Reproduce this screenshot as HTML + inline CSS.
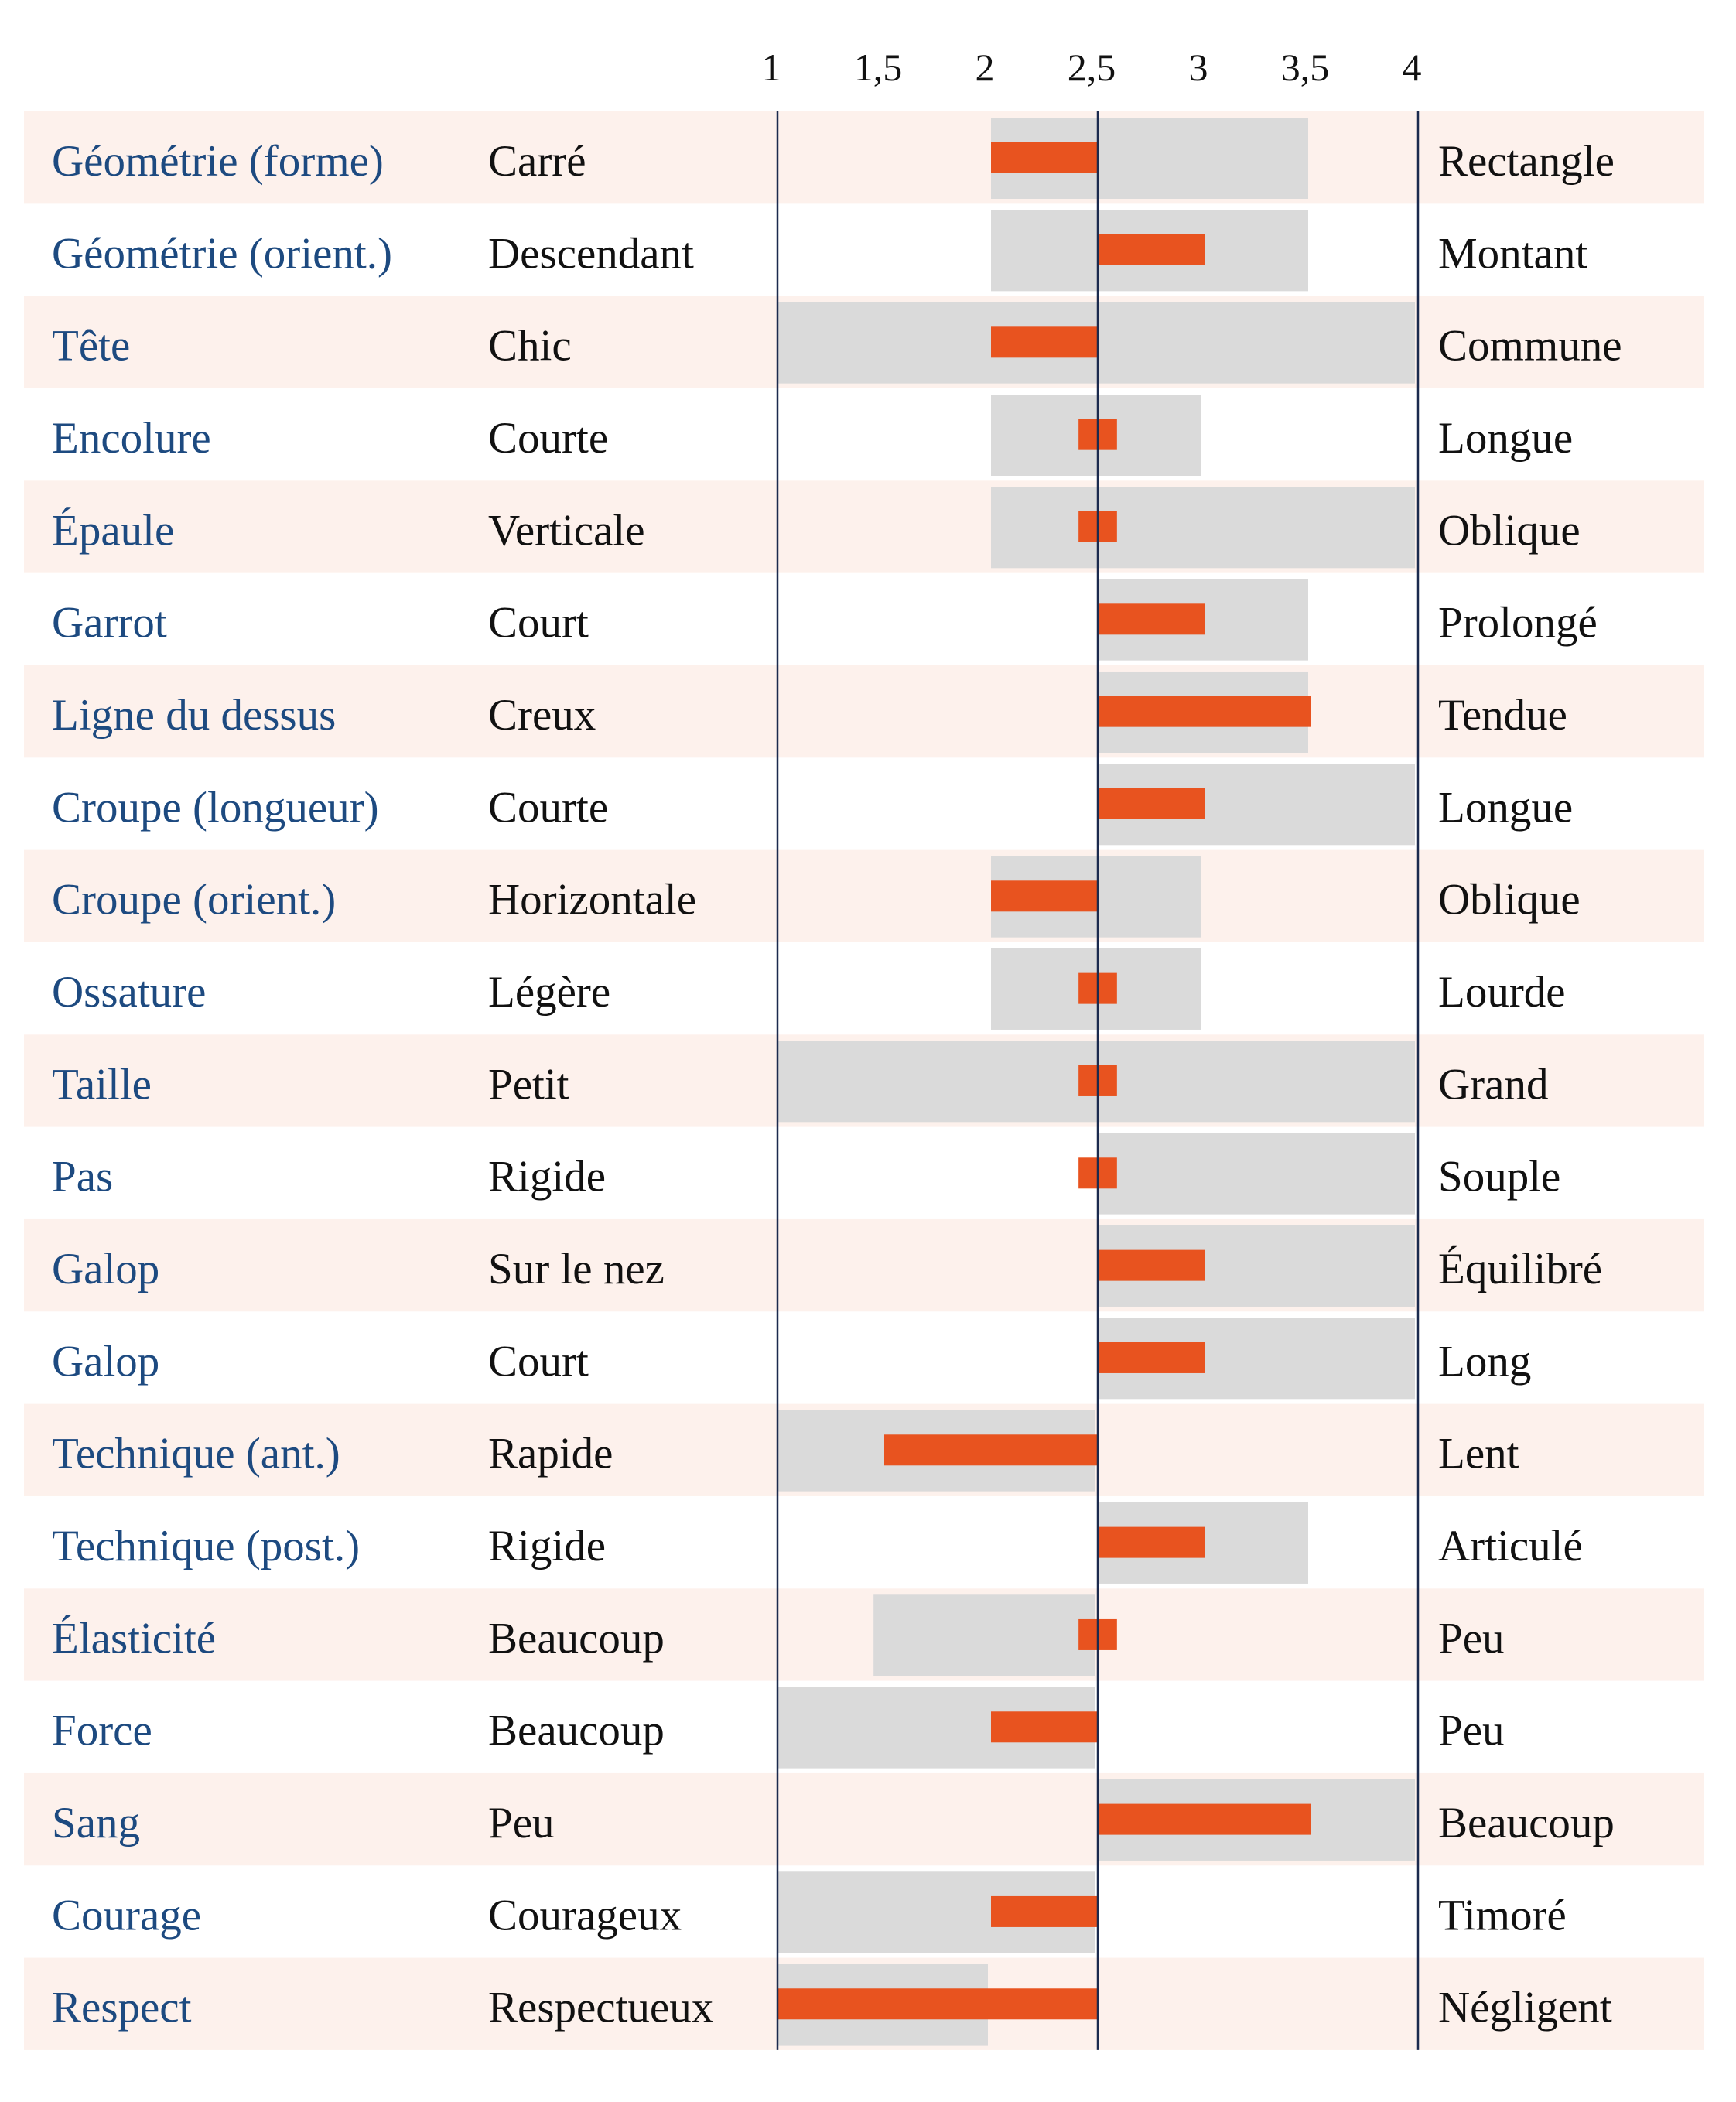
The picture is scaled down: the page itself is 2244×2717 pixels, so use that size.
<!DOCTYPE html>
<html><head><meta charset="utf-8"><style>
html,body{margin:0;padding:0;background:#fff;}
svg{display:block;}
text{font-family:"Liberation Serif",serif;}
</style></head><body>
<svg id="chart" width="2244" height="2717" viewBox="0 0 2244 2717" xmlns="http://www.w3.org/2000/svg">
<g id="bands"></g><g id="grays"></g><g id="oranges"></g><g id="lines"></g><g id="ticks"></g><g id="labels"></g>
</svg>
<script>
const traits = ["Géométrie (forme)","Géométrie (orient.)","Tête","Encolure","Épaule","Garrot","Ligne du dessus","Croupe (longueur)","Croupe (orient.)","Ossature","Taille","Pas","Galop","Galop","Technique (ant.)","Technique (post.)","Élasticité","Force","Sang","Courage","Respect"];
const leftPoles = ["Carré","Descendant","Chic","Courte","Verticale","Court","Creux","Courte","Horizontale","Légère","Petit","Rigide","Sur le nez","Court","Rapide","Rigide","Beaucoup","Beaucoup","Peu","Courageux","Respectueux"];
const rightPoles = ["Rectangle","Montant","Commune","Longue","Oblique","Prolongé","Tendue","Longue","Oblique","Lourde","Grand","Souple","Équilibré","Long","Lent","Articulé","Peu","Peu","Beaucoup","Timoré","Négligent"];
const rangeMin = [2,2,1,2,2,2.5,2.5,2.5,2,2,1,2.5,2.5,2.5,1,2.5,1.45,1,2.5,1,1];
const rangeMax = [3.5,3.5,4,3,4,3.5,3.5,4,3,3,4,4,4,4,2.5,3.5,2.5,2.5,4,2.5,2];
const scores = [2,3,2,2.5,2.5,3,3.5,3,2,2.5,2.5,2.5,3,3,1.5,3,2.5,2,3.5,2,1];
const tickValues = [1,1.5,2,2.5,3,3.5,4];
const tickLabels = ["1","1,5","2","2,5","3","3,5","4"];

const NS="http://www.w3.org/2000/svg";
const X0=1005, UNIT=276, TOP=144, ROWH=119.33;
const x = v => X0 + (v-1)*UNIT;
const rowTop = i => TOP + i*ROWH;
function mk(parent, tag, attrs, txt){
  const el=document.createElementNS(NS,tag);
  for(const k in attrs) el.setAttribute(k,attrs[k]);
  if(txt!==undefined) el.textContent=txt;
  document.getElementById(parent).appendChild(el);
  return el;
}
traits.forEach((t,i)=>{
  const y=rowTop(i);
  if(i%2===0){
    const b=mk('bands','rect',{x:31,y:y,width:2172,height:ROWH,fill:'#fdf1ec'});
    
    
  }
  const g=mk('grays','rect',{x:x(rangeMin[i]),y:y+8,width:x(rangeMax[i])-x(rangeMin[i])-4,height:105,fill:'#dadada'});
  
  
  const s=scores[i];
  let a,b2;
  if(s===2.5){a=x(2.41);b2=x(2.59);} else {a=x(Math.min(s,2.5));b2=x(Math.max(s,2.5));}
  const o=mk('oranges','rect',{x:a,y:y+ROWH/2-20,width:b2-a,height:40,fill:'#e8531f'});
  
  
  const base=y+83;
  const l1=mk('labels','text',{x:67,y:base,'font-size':57,fill:'#1d4a80'},t);
  
  
  const l2=mk('labels','text',{x:631,y:base,'font-size':57,fill:'#111'},leftPoles[i]);
  
  
  const l3=mk('labels','text',{x:1859,y:base,'font-size':57,fill:'#111'},rightPoles[i]);
  
  
});
[1,2.5,4].forEach(v=>{
  const ln=mk('lines','line',{x1:x(v),x2:x(v),y1:TOP,y2:TOP+traits.length*ROWH,stroke:'#1b2a4e','stroke-width':2.5});
  
  
});
tickValues.forEach((v,i)=>{
  const tx=mk('ticks','text',{x:x(v)-8,y:104,'font-size':50,'text-anchor':'middle',fill:'#111'},tickLabels[i]);
  
  
});
</script>
</body></html>
